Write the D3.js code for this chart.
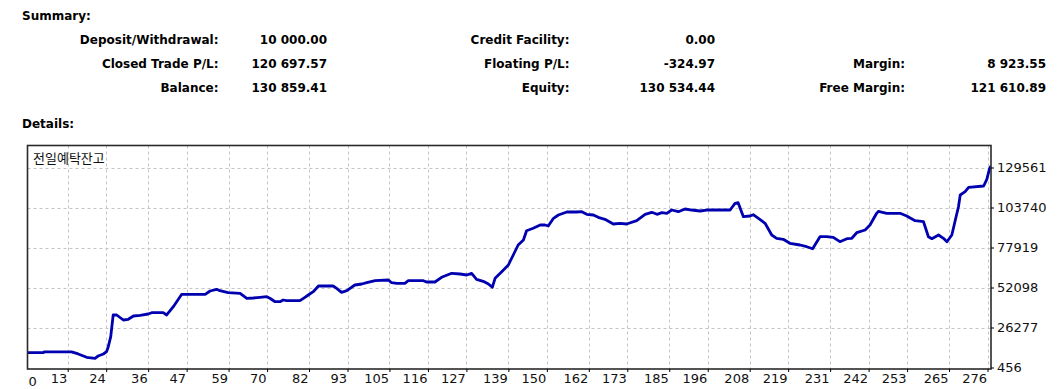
<!DOCTYPE html>
<html>
<head>
<meta charset="utf-8">
<script src="https://cdn.jsdelivr.net/npm/d3@7"></script>
<style>
	body { margin: 0; background: #fff; }
	svg { display: block; }
</style>
</head>
<body>
<svg width="1064" height="389"></svg>
<script>
// Strategy tester report: summary block + balance curve

var summaryLabels = [
	["Deposit/Withdrawal:", "Closed Trade P/L:", "Balance:"],
	["Credit Facility:", "Floating P/L:", "Equity:"],
	["", "Margin:", "Free Margin:"]
];
var summaryValues = [
	["10 000.00", "120 697.57", "130 859.41"],
	["0.00", "-324.97", "130 534.44"],
	["", "8 923.55", "121 610.89"]
];

var chartTitle = "전일예탁잔고";

// trade number and balance
var trades = [1,6,6.2,14.1,16,18.4,20.8,21.7,23.2,24.1,
	24.6,25.3,26,27,28.9,30.3,31.8,33.7,36,37,
	40.3,41.3,43.2,45.6,52.3,53.7,55.6,56.5,58.9,62.3,
	64.2,66.1,68,69.9,70.8,72.3,73.7,74.6,75.6,79.4,
	80.4,81.8,83.2,84.7,88.9,89.9,91.3,92.8,95.1,97.1,
	98.5,100.9,104.7,105.6,107.1,109.4,110.4,114.7,115.6,118,
	119.9,122.8,125.2,127.1,128.5,129.9,131.8,133.3,134.4,135.2,
	137.1,139,140.4,141.8,143.3,144.2,146.1,148.1,149.5,150.4,
	151.9,153.3,155.7,158.5,160,161.4,163.3,164.7,166.6,169,
	170.9,172.8,175.7,178.1,180,181.5,182.9,184.3,185.7,187.6,
	189.5,191.4,193.8,195.7,202.4,203.8,204.7,206.2,208.1,209,
	210.9,212.4,214.3,215.7,217.6,219.5,222.4,224.3,226,228.1,
	230,231.9,233.8,235.8,237.2,238.6,241,242.4,244.3,244.8,
	247.2,251,252.9,255.3,257.7,259.1,260.1,262,263.4,264.4,
	265.8,266.8,267.7,268.2,269.6,270.6,274.9,275.8,276.6,277];

var balance = [10000,10000,10500,10500,9200,7040,6400,7880,9170,10660,
	13880,20340,34350,34350,31120,31570,33700,34150,34990,35830,
	35830,34350,39700,47710,47710,49840,50930,50030,48740,48350,
	45130,45320,45770,46160,45130,42930,42930,44030,43580,43580,
	45130,47260,49390,53060,53060,51580,49000,50030,53710,54360,
	55190,56490,56940,55190,54810,54810,56490,56490,55650,55650,
	58680,61260,60810,60170,61260,57390,56100,54360,52230,58040,
	62300,66620,73080,79530,82760,88760,90310,92440,92440,91790,
	96770,98890,100830,100830,101030,99350,98890,97410,96120,93090,
	93540,93090,95220,99350,100640,99350,100380,99990,102120,101030,
	102770,102120,101480,102120,102120,106450,106830,97800,98250,99090,
	96120,93540,85990,83860,83210,80630,79530,78430,77140,84890,
	84890,84500,81660,83600,83860,87470,89210,92440,99990,101280,
	99990,99990,98250,95220,94570,84890,83600,85990,83860,81660,
	85990,95670,104250,111810,113940,116780,117620,121940,129040,130500];

var xTicks = [13,24,36,47,59,70,82,93,105,116,127,139,150,162,173,185,196,208,219,231,242,253,265,276];
var yTicks = [456, 26277, 52098, 77919, 103740, 129561];

function draw(){
	var svg = d3.select("svg");
	var boldFont = "'DejaVu Sans', Verdana, sans-serif";

	// --- summary block
	svg.append("text").text("Summary:")
		.attr("x", 22).attr("y", 16).attr("dy", "0.35em")
		.attr("font-family", boldFont).attr("font-weight", "bold").attr("font-size", 12);
	svg.append("text").text("Details:")
		.attr("x", 22).attr("y", 124).attr("dy", "0.35em")
		.attr("font-family", boldFont).attr("font-weight", "bold").attr("font-size", 12);

	var labelRight = [218.5, 569.5, 905];
	var valueRight = [327, 715, 1046];
	var rowY = [40, 64, 88];

	summaryLabels.forEach(function(col, ci){
		col.forEach(function(lbl, ri){
			if (!lbl) return;
			svg.append("text").text(lbl)
				.attr("x", labelRight[ci]).attr("y", rowY[ri]).attr("dy", "0.35em")
				.attr("text-anchor", "end")
				.attr("font-family", boldFont).attr("font-weight", "bold").attr("font-size", 12);
			svg.append("text").text(summaryValues[ci][ri])
				.attr("x", valueRight[ci]).attr("y", rowY[ri]).attr("dy", "0.35em")
				.attr("text-anchor", "end")
				.attr("font-family", boldFont).attr("font-weight", "bold").attr("font-size", 12);
		});
	});

	// --- chart frame
	var pLeft = 27.5, pRight = 991, pTop = 145.5, pBottom = 369;

	var x = d3.scaleLinear().domain([1.5, 277]).range([pLeft, pRight]);
	var y = d3.scaleLinear().domain([456, 129561]).range([367.5, 167.5]);

	svg.append("clipPath").attr("id", "plot")
		.append("rect").attr("x", pLeft).attr("y", pTop)
		.attr("width", pRight - pLeft).attr("height", pBottom - pTop);

	var grid = svg.append("g")
		.attr("stroke", "#c4c4c4").attr("stroke-dasharray", "3,3").attr("stroke-width", 1);

	grid.selectAll("line.v").data(xTicks).enter().append("line")
		.attr("class", "v")
		.attr("x1", d => Math.round(x(d)) + 0.5).attr("x2", d => Math.round(x(d)) + 0.5)
		.attr("y1", pTop).attr("y2", pBottom);

	grid.selectAll("line.h").data(yTicks.slice(1)).enter().append("line")
		.attr("class", "h")
		.attr("x1", pLeft).attr("x2", pRight)
		.attr("y1", d => Math.round(y(d)) + 0.5).attr("y2", d => Math.round(y(d)) + 0.5);

	svg.append("text").text(chartTitle)
		.attr("x", 33).attr("y", 158).attr("dy", "0.35em")
		.attr("font-family", "'Noto Sans CJK KR', sans-serif").attr("font-size", 13)
		.attr("fill", "#111");

	var line = d3.line()
		.x((d, i) => x(trades[i]))
		.y(d => y(d));

	svg.append("path")
		.datum(balance)
		.attr("clip-path", "url(#plot)")
		.attr("fill", "none")
		.attr("stroke", "#0000b0")
		.attr("stroke-width", 2.8)
		.attr("stroke-linejoin", "round")
		.attr("d", line);

	svg.append("rect")
		.attr("x", pLeft).attr("y", pTop)
		.attr("width", pRight - pLeft).attr("height", pBottom - pTop)
		.attr("fill", "none").attr("stroke", "#2a2a2a").attr("stroke-width", 1.6);

	// --- axes
	var axisFont = "'DejaVu Sans', Verdana, sans-serif";

	var yAxis = svg.append("g")
		.attr("transform", "translate(" + pRight + ",0)")
		.call(d3.axisRight(y).tickValues(yTicks).tickSize(3).tickPadding(3).tickFormat(d3.format("d")));
	yAxis.select(".domain").remove();
	yAxis.selectAll("text").attr("font-family", axisFont).attr("font-size", 13).attr("fill", "#111");

	var xAxis = svg.append("g")
		.attr("transform", "translate(0," + pBottom + ")")
		.call(d3.axisBottom(x).tickValues(xTicks).tickSize(3).tickPadding(2).tickFormat(d3.format("d")));
	xAxis.select(".domain").remove();
	xAxis.selectAll("text")
		.attr("font-family", axisFont).attr("font-size", 13).attr("fill", "#111")
		.attr("text-anchor", "end").attr("dx", "-1");

	// first label sits at the frame's left edge
	svg.append("text").text("0")
		.attr("x", pLeft + 1).attr("y", 381).attr("dy", "0.35em")
		.attr("font-family", axisFont).attr("font-size", 13).attr("fill", "#111");
}

draw();
</script>
</body>
</html>
